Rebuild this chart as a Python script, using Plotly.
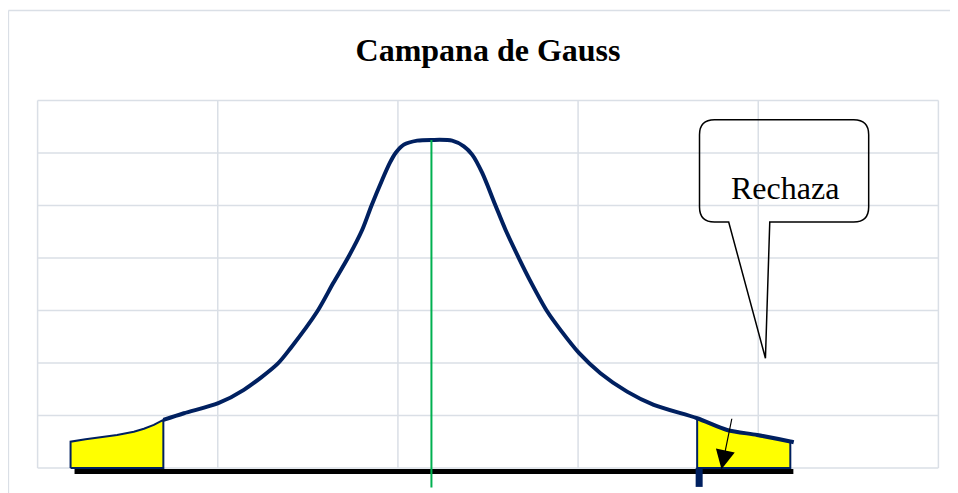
import plotly.graph_objects as go

# ---- data (axis units: x 0..5, y 0..7) ----
curve_x = [0.183, 0.266, 0.350, 0.441, 0.534, 0.590, 0.645, 0.698,
           0.812, 1.003, 1.145, 1.330, 1.404, 1.552, 1.641, 1.722, 1.802, 1.853,
           1.913, 1.955, 1.987, 2.033, 2.107, 2.186, 2.301, 2.366, 2.412, 2.468,
           2.542, 2.597, 2.671, 2.741, 2.829, 2.902, 3.006, 3.124, 3.272, 3.420,
           3.661, 3.827, 3.994, 4.178, 4.197]
curve_y = [0.502, 0.548, 0.586, 0.630, 0.692, 0.748, 0.820, 0.916,
           1.043, 1.234, 1.488, 1.978, 2.283, 2.981, 3.523, 4.000, 4.539, 4.997,
           5.493, 5.812, 6.002, 6.161, 6.237, 6.250, 6.237, 6.128, 5.970, 5.621,
           4.997, 4.539, 4.000, 3.523, 2.981, 2.632, 2.188, 1.806, 1.455, 1.202,
           0.948, 0.725, 0.629, 0.505, 0.490]
left_crit = 0.698
right_crit = 3.661
right_end = 4.178
mean_x = 2.186
mean_y = 6.250
base_x = [0.205, 4.195]
callout_text = "Rechaza"
title_text = "Campana de Gauss"
grid_x = [0, 1, 2, 3, 4, 5]
grid_y = [0, 1, 2, 3, 4, 5, 6, 7]

NAVY = "#002060"
GRID = "#dadfe6"

fig = go.Figure()

# left rejection region
lx = [x for x in curve_x if x <= left_crit]
ly = [y for x, y in zip(curve_x, curve_y) if x <= left_crit]
fig.add_trace(go.Scatter(x=[lx[0]] + lx + [lx[-1], lx[0]], y=[0] + ly + [0, 0],
                         mode="lines", fill="toself", fillcolor="#ffff00",
                         line=dict(color=NAVY, width=2), hoverinfo="skip"))
# right rejection region
rx = [x for x in curve_x if right_crit <= x <= right_end]
ry = [y for x, y in zip(curve_x, curve_y) if right_crit <= x <= right_end]
fig.add_trace(go.Scatter(x=[rx[0]] + rx + [rx[-1], rx[0]], y=[0] + ry + [0, 0],
                         mode="lines", fill="toself", fillcolor="#ffff00",
                         line=dict(color=NAVY, width=2), hoverinfo="skip"))
# bell curve
mx = [x for x in curve_x if x >= left_crit]
my = [y for x, y in zip(curve_x, curve_y) if x >= left_crit]
fig.add_trace(go.Scatter(x=mx, y=my, mode="lines",
                         line=dict(color=NAVY, width=4, shape="spline", smoothing=0.8),
                         hoverinfo="skip"))
# baseline
fig.add_trace(go.Scatter(x=base_x, y=[-0.067, -0.067], mode="lines",
                         line=dict(color="#000000", width=5), hoverinfo="skip"))
# critical tick
fig.add_trace(go.Scatter(x=[3.672, 3.672], y=[0, -0.36], mode="lines",
                         line=dict(color=NAVY, width=7), hoverinfo="skip"))
# mean line
fig.add_trace(go.Scatter(x=[mean_x, mean_x], y=[mean_y, -0.37], mode="lines",
                         line=dict(color="#00b050", width=2), hoverinfo="skip"))

shapes = []
for gx in grid_x:
    shapes.append(dict(type="line", xref="x", yref="y", x0=gx, x1=gx, y0=0, y1=7,
                       line=dict(color=GRID, width=1.5), layer="below"))
for gy in grid_y:
    shapes.append(dict(type="line", xref="x", yref="y", x0=0, x1=5, y0=gy, y1=gy,
                       line=dict(color=GRID, width=1.5), layer="below"))

# outer frame
shapes.append(dict(type="line", xref="paper", yref="paper", x0=-0.0282, x1=1.2,
                   y0=1.2269, y1=1.2269, line=dict(color=GRID, width=1.5)))
shapes.append(dict(type="line", xref="paper", yref="paper", x0=-0.0282, x1=-0.0282,
                   y0=1.2269, y1=-0.2, line=dict(color=GRID, width=1.5)))

# callout (rounded box with pointer)
bx0, bx1, by0, by1 = 3.674, 4.613, 4.686, 6.637
rx_, ry_ = 0.083, 0.286
t0, t1, tipx, tipy = 3.836, 4.064, 4.040, 2.092
path = (f"M {bx0+rx_} {by1} L {bx1-rx_} {by1} Q {bx1} {by1} {bx1} {by1-ry_} "
        f"L {bx1} {by0+ry_} Q {bx1} {by0} {bx1-rx_} {by0} "
        f"L {t1} {by0} L {tipx} {tipy} L {t0} {by0} "
        f"L {bx0+rx_} {by0} Q {bx0} {by0} {bx0} {by0+ry_} "
        f"L {bx0} {by1-ry_} Q {bx0} {by1} {bx0+rx_} {by1} Z")
shapes.append(dict(type="path", xref="x", yref="y", path=path,
                   line=dict(color="#000000", width=1.5), fillcolor="rgba(0,0,0,0)"))

annotations = [
    dict(x=4.148, y=5.34, xref="x", yref="y", text=callout_text, showarrow=False,
         font=dict(family="Liberation Serif", size=32, color="#000000")),
    dict(x=3.796, y=-0.025, ax=3.855, ay=0.967, xref="x", yref="y", axref="x", ayref="y",
         text="", showarrow=True, arrowhead=2, arrowsize=3.2, arrowwidth=1.2,
         arrowcolor="#000000"),
]

# the page body has an 8px margin, so the figure starts at (8, 8) on screen
fig.update_layout(
    width=950, height=485,
    margin=dict(l=25.6, r=16.2, t=91.4, b=4, pad=0),
    paper_bgcolor="white", plot_bgcolor="white",
    showlegend=False,
    title=dict(text=f"<b>{title_text}</b>", x=0.5, xref="paper", xanchor="center",
               y=1 - 42 / 485, yref="container", yanchor="middle",
               font=dict(family="Liberation Serif", size=32, color="#000000")),
    xaxis=dict(range=[-0.02, 5.02], visible=False, fixedrange=True),
    yaxis=dict(range=[-0.4, 7.03], visible=False, fixedrange=True),
    shapes=shapes, annotations=annotations,
)

fig.write_html("out.html", config={"displayModeBar": False})
